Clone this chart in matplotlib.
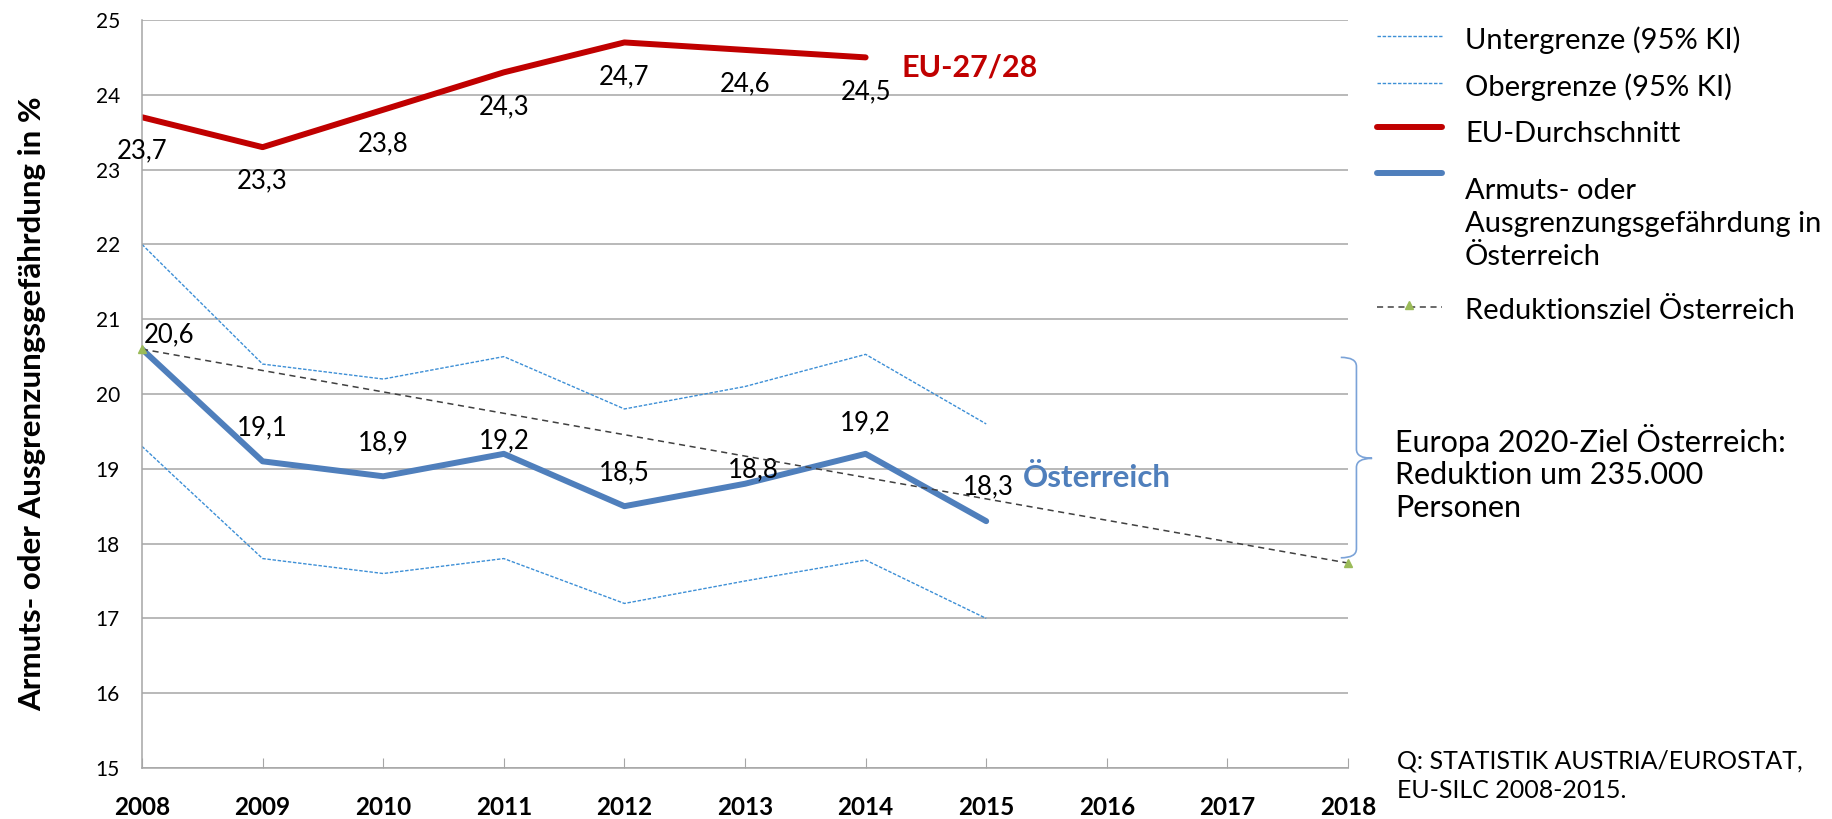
import matplotlib
matplotlib.use("Agg")
import matplotlib.pyplot as plt
from matplotlib.lines import Line2D
from matplotlib.path import Path
from matplotlib.patches import PathPatch

plt.rcParams['font.family'] = ['Lato', 'DejaVu Sans']

# data
years = list(range(2008, 2019))
eu_years = years[:7]
eu = [23.7, 23.3, 23.8, 24.3, 24.7, 24.6, 24.5]
at_years = years[:8]
at = [20.6, 19.1, 18.9, 19.2, 18.5, 18.8, 19.2, 18.3]
ci_low = [19.3, 17.8, 17.6, 17.8, 17.2, 17.5, 17.78, 17.0]
ci_high = [22.0, 20.4, 20.2, 20.5, 19.8, 20.1, 20.53, 19.6]
goal_years = [2008, 2018]
goal = [20.6, 17.74]

W, H = 1833, 819
RED = '#c00000'
BLUE = '#4f7fbc'
CI_BLUE = '#3d8fd6'
GRID = '#a6a6a6'


def fx(px):
    return px / W


def fy(py):
    return 1 - py / H


fig = plt.figure(figsize=(W / 100, H / 100), dpi=100)
ax = fig.add_axes([fx(142), fy(768), fx(1348) - fx(142), fy(20) - fy(768)])

ax.plot(at_years, ci_low, color=CI_BLUE, lw=1, ls=(0, (2.5, 1.2)))
ax.plot(at_years, ci_high, color=CI_BLUE, lw=1, ls=(0, (2.5, 1.2)))
ax.plot(goal_years, goal, color='#404040', lw=1.1, ls=(0, (4, 3)),
        marker='^', ms=6, mfc='#9bbb59', mec='#9bbb59', clip_on=False, zorder=4)
ax.plot(eu_years, eu, color=RED, lw=4.3, solid_capstyle='round', solid_joinstyle='round')
ax.plot(at_years, at, color=BLUE, lw=4.3, solid_capstyle='round', solid_joinstyle='round')

# data labels
for x, v in zip(eu_years, eu):
    ax.annotate(f'{v:.1f}'.replace('.', ','), (x, v), xytext=(0, -34),
                textcoords='offset pixels', ha='center', va='center', fontsize=18.5,
                annotation_clip=False)
at_offsets = [(27, 14), (0, 34), (0, 33), (0, 13), (0, 33), (8, 14), (0, 31), (2, 34)]
for x, v, off in zip(at_years, at, at_offsets):
    ax.annotate(f'{v:.1f}'.replace('.', ','), (x, v), xytext=off,
                textcoords='offset pixels', ha='center', va='center', fontsize=18.5)

ax.text(2014.30, 24.36, 'EU-27/28', color=RED, fontsize=22, fontweight='bold',
        ha='left', va='center')
ax.text(2015.30, 18.88, 'Österreich', color=BLUE, fontsize=22.5, fontweight='bold',
        ha='left', va='center')

# axes styling
ax.set_xlim(2008, 2018)
ax.set_ylim(15, 25)
ax.set_xticks(years)
ax.set_yticks(range(15, 26))
ax.grid(axis='y', color=GRID, lw=1.1)
ax.set_axisbelow(True)
for s in ['top', 'right']:
    ax.spines[s].set_visible(False)
for s in ['left', 'bottom']:
    ax.spines[s].set_color(GRID)
    ax.spines[s].set_linewidth(1.1)
ax.tick_params(axis='x', direction='in', length=7, color=GRID, pad=20, labelsize=17.5)
ax.tick_params(axis='y', length=0, pad=16, labelsize=15)
for lab in ax.get_xticklabels():
    lab.set_fontweight('bold')

fig.text(fx(32), fy(404), 'Armuts- oder Ausgrenzungsgefährdung in %', rotation=90,
         fontsize=22.5, fontweight='bold', ha='center', va='center')

# brace for the Europe 2020 goal
b_x0, b_xs, b_xt = 2017.94, 2018.07, 2018.2
b_top, b_mid, b_bot, r = 20.49, 19.14, 17.81, 0.12
verts = [(b_x0, b_top), (b_xs, b_top), (b_xs, b_top - r),
         (b_xs, b_mid + r), (b_xs, b_mid), (b_xt, b_mid),
         (b_xs, b_mid), (b_xs, b_mid - r),
         (b_xs, b_bot + r), (b_xs, b_bot), (b_x0, b_bot)]
codes = [Path.MOVETO, Path.CURVE3, Path.CURVE3,
         Path.LINETO, Path.CURVE3, Path.CURVE3,
         Path.CURVE3, Path.CURVE3,
         Path.LINETO, Path.CURVE3, Path.CURVE3]
ax.add_patch(PathPatch(Path(verts, codes), fill=False, ec='#7ba3d8', lw=1.2,
                       clip_on=False))

fig.text(fx(1395), fy(473), 'Europa 2020-Ziel Österreich:\nReduktion um 235.000\nPersonen',
         fontsize=22, ha='left', va='center', linespacing=1.18)

fig.text(fx(1397), fy(776), 'Q: STATISTIK AUSTRIA/EUROSTAT,\nEU-SILC 2008-2015.',
         fontsize=18, ha='left', va='center', linespacing=1.36)

# legend drawn by hand
legend_items = [
    (36, 40, dict(color=CI_BLUE, lw=1, ls=(0, (2.5, 1.2))), 'Untergrenze (95% KI)'),
    (83, 87, dict(color=CI_BLUE, lw=1, ls=(0, (2.5, 1.2))), 'Obergrenze (95% KI)'),
    (127, 134, dict(color=RED, lw=4.3, solid_capstyle='round'), 'EU-Durchschnitt'),
    (173, 0, dict(color=BLUE, lw=4.3, solid_capstyle='round'), None),
    (307, 311, dict(color='#404040', lw=1.1, ls=(0, (4, 3))), 'Reduktionsziel Österreich'),
]
for py, ty, style, label in legend_items:
    fig.add_artist(Line2D([fx(1377), fx(1442)], [fy(py), fy(py)], **style))
    if label:
        fig.text(fx(1465), fy(ty), label, fontsize=21, ha='left', va='center')
fig.add_artist(Line2D([fx(1409)], [fy(305)], marker='^', ms=6, color='#9bbb59', lw=0))
fig.text(fx(1465), fy(224), 'Armuts- oder\nAusgrenzungsgefährdung in\nÖsterreich',
         fontsize=21, ha='left', va='center', linespacing=1.33)

fig.savefig('out.png', dpi=100)
